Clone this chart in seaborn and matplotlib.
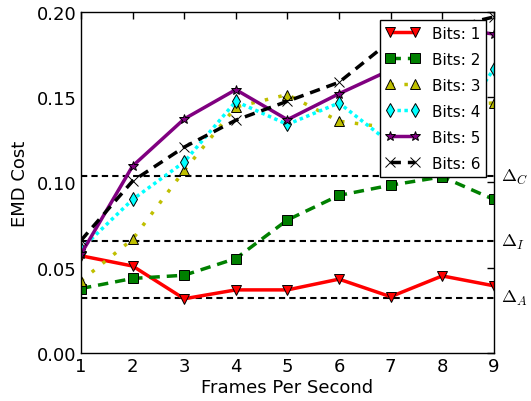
import matplotlib
matplotlib.use("Agg")
import matplotlib.pyplot as plt
import matplotlib.transforms as mtransforms
import seaborn as sns
import pandas as pd

fps = [1, 2, 3, 4, 5, 6, 7, 8, 9]
bits_1 = [0.057, 0.051, 0.0318, 0.037, 0.037, 0.0433, 0.033, 0.0452, 0.0394]
bits_2 = [0.0378, 0.0437, 0.0456, 0.0554, 0.078, 0.0924, 0.0984, 0.1033, 0.090]
bits_3 = [0.0423, 0.0667, 0.107, 0.1442, 0.1515, 0.1359, 0.132, 0.145, 0.1466]
bits_4 = [0.061, 0.090, 0.112, 0.1475, 0.134, 0.1466, 0.123, 0.122, 0.1665]
bits_5 = [0.058, 0.1096, 0.1372, 0.1544, 0.1368, 0.152, 0.166, 0.191, 0.187]
bits_6 = [0.066, 0.1008, 0.1207, 0.1365, 0.1476, 0.1587, 0.183, 0.190, 0.197]
series_labels = ["Bits: 1", "Bits: 2", "Bits: 3", "Bits: 4", "Bits: 5", "Bits: 6"]

thresholds = [0.1037, 0.0655, 0.0323]
threshold_labels = [r"$\Delta_C$", r"$\Delta_I$", r"$\Delta_A$"]

sns.set_style("white")
plt.rcParams["font.family"] = ["DejaVu Sans"]
plt.rcParams["mathtext.fontset"] = "cm"
plt.rcParams["text.color"] = "black"
plt.rcParams["axes.labelcolor"] = "black"
plt.rcParams["xtick.color"] = "black"
plt.rcParams["ytick.color"] = "black"
plt.rcParams["legend.numpoints"] = 2

fig = plt.figure(figsize=(5.31, 4.02), dpi=100)
ax = fig.add_axes([0.1525, 0.1194, 0.7775, 0.8486])

styles = [
    dict(color="red", linestyle="-", marker="v", markerfacecolor="red", markersize=7),
    dict(color="green", linestyle=(0, (3, 2)), marker="s", markerfacecolor="green", markersize=6.5),
    dict(color="#bfbf00", linestyle=(0, (1, 3)), marker="^", markerfacecolor="#bfbf00", markersize=7),
    dict(color="cyan", linestyle=(0, (1, 1)), marker="d", markerfacecolor="cyan", markersize=7.5),
    dict(color="purple", linestyle="-", marker="*", markerfacecolor="purple", markersize=7),
    dict(color="black", linestyle=(0, (3, 2)), marker="x", markerfacecolor="black", markersize=7),
]

all_series = [bits_1, bits_2, bits_3, bits_4, bits_5, bits_6]
for vals, lab, st in zip(all_series, series_labels, styles):
    df = pd.DataFrame({"fps": fps, "cost": vals})
    sns.lineplot(data=df, x="fps", y="cost", ax=ax, label=lab,
                 linewidth=2.5, markeredgecolor="black",
                 markeredgewidth=0.7, **st)

trans = mtransforms.blended_transform_factory(ax.transAxes, ax.transData)
for val, lab in zip(thresholds, threshold_labels):
    ax.axhline(val, color="black", linestyle=(0, (3, 2)), linewidth=1.5, zorder=1)
    ax.text(1.018, val, lab, transform=trans, va="center", ha="left", fontsize=13)

ax.set_xlim(1, 9)
ax.set_ylim(0, 0.20)
ax.set_xticks(fps)
ax.set_yticks([0.00, 0.05, 0.10, 0.15, 0.20])
ax.set_yticklabels(["0.00", "0.05", "0.10", "0.15", "0.20"])
ax.tick_params(axis="both", which="major", direction="in", length=5, width=1,
               labelsize=13, top=True, right=True, pad=3)
ax.set_xlabel("Frames Per Second", fontsize=13, labelpad=2)
ax.set_ylabel("EMD Cost", fontsize=13, labelpad=6)
for sp in ax.spines.values():
    sp.set_color("black")
    sp.set_linewidth(1)

leg = ax.legend(loc="upper right", fontsize=11, frameon=True, fancybox=False,
                framealpha=1, handlelength=2.2, borderaxespad=0.5,
                labelspacing=0.72, numpoints=2)
leg.get_frame().set_edgecolor("black")
leg.get_frame().set_linewidth(1)

fig.savefig("out.png", dpi=100)
